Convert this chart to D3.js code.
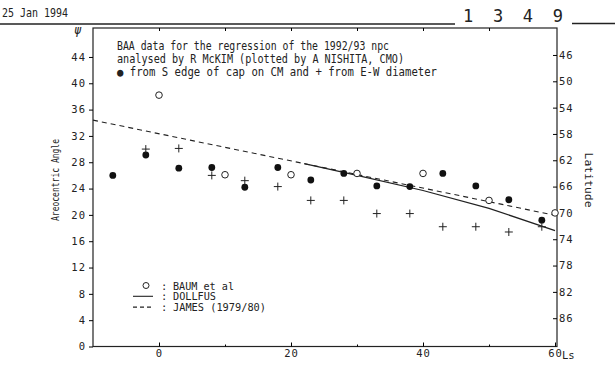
<!DOCTYPE html>
<html>
<head>
<meta charset="utf-8">
<script src="https://cdn.jsdelivr.net/npm/d3@7"></script>
<style>
  body { margin: 0; background: #fff; }
  svg { display: block; }
  text { font-family: "DejaVu Sans Mono", "Liberation Mono", monospace; fill: #222; }
</style>
</head>
<body>
<div id="vis"></div>
<script>
// filled dots: from S edge of cap on CM
const lsEdge = [-7, -2, 3, 8, 13, 18, 23, 28, 33, 38, 43, 48, 53, 58];
const psiEdge = [26.0, 29.1, 27.1, 27.2, 24.2, 27.2, 25.3, 26.3, 24.4, 24.3, 26.3, 24.4, 22.3, 19.2];
// plus signs: from E-W diameter
const lsDiam = [-2, 3, 8, 13, 18, 23, 28, 33, 38, 43, 48, 53, 58];
const psiDiam = [30.0, 30.1, 26.0, 25.2, 24.3, 22.2, 22.2, 20.2, 20.2, 18.2, 18.2, 17.4, 18.2];
// open circles: BAUM et al
const lsBaum = [0, 10, 20, 30, 40, 50, 60];
const psiBaum = [38.2, 26.1, 26.1, 26.3, 26.3, 22.2, 20.3];
// curves
const lsDollfus = [22, 30, 40, 50, 60];
const psiDollfus = [27.8, 26.0, 23.7, 21.0, 17.6];
const lsJames = [-10, 59.7];
const psiJames = [34.4, 20.0];

const psiTicks = [0, 4, 8, 12, 16, 20, 24, 28, 32, 36, 40, 44];
const latTicks = [46, 50, 54, 58, 62, 66, 70, 74, 78, 82, 86];
const lsTicks = [0, 20, 40, 60];
const lsMinor = [10, 30, 50];
const latOffset = 90.3; // latitude = latOffset - psi

const notes = [
  "BAA data for the regression of the 1992/93 npc",
  "analysed by R McKIM (plotted by A NISHITA, CMO)",
  "\u25CF from S edge of cap on CM and + from E-W diameter"
];
const noteWidths = [272, 287, 320];
const legendItems = [
  {label: "BAUM et al", type: "circle", w: 61},
  {label: "DOLLFUS", type: "solid", w: 43},
  {label: "JAMES (1979/80)", type: "dash", w: 93}
];

const width = 615, height = 368;
const margin = {top: 28, right: 58, bottom: 22, left: 93};

const svg = d3.select("#vis").append("svg")
    .attr("width", width)
    .attr("height", height);

svg.append("rect").attr("width", width).attr("height", height).attr("fill", "#fff");

// header
svg.append("text").attr("x", 2).attr("y", 17)
    .attr("font-size", 13).attr("textLength", 66).attr("lengthAdjust", "spacingAndGlyphs")
    .text("25 Jan 1994");
svg.append("line").attr("x1", 0).attr("x2", 455).attr("y1", 24).attr("y2", 24)
    .attr("stroke", "#222").attr("stroke-width", 1.4);
svg.append("text").attr("x", 463).attr("y", 22)
    .attr("font-family", "Liberation Mono").attr("font-size", 17)
    .attr("textLength", 100).attr("lengthAdjust", "spacing")
    .text("1 3 4 9");
svg.append("line").attr("x1", 572).attr("x2", 615).attr("y1", 23.5).attr("y2", 23.5)
    .attr("stroke", "#222").attr("stroke-width", 1.4);

const x = d3.scaleLinear().domain([-10, 60.3]).range([margin.left, width - margin.right]);
const y = d3.scaleLinear().domain([0, 48.4]).range([height - margin.bottom + 0.5, margin.top]);
const yLat = d3.scaleLinear().domain(y.domain().map(v => latOffset - v)).range(y.range());

// frame
svg.append("rect")
    .attr("x", x.range()[0]).attr("y", margin.top)
    .attr("width", x.range()[1] - x.range()[0])
    .attr("height", y.range()[0] - margin.top)
    .attr("fill", "none").attr("stroke", "#222").attr("stroke-width", 1.2);

const tickFont = g => g.selectAll("text").attr("font-size", 10.5).attr("letter-spacing", 1);

// left axis
svg.append("g").attr("transform", `translate(${x.range()[0]},0)`)
    .call(d3.axisLeft(y).tickValues(psiTicks).tickSize(4).tickPadding(3).tickSizeOuter(0))
    .call(g => g.select(".domain").remove())
    .call(tickFont);

// right axis (latitude)
svg.append("g").attr("transform", `translate(${x.range()[1]},0)`)
    .call(d3.axisRight(yLat).tickValues(latTicks).tickSize(-4).tickPadding(2).tickSizeOuter(0))
    .call(g => g.select(".domain").remove())
    .call(tickFont);

// bottom axis
svg.append("g").attr("transform", `translate(0,${y.range()[0]})`)
    .call(d3.axisBottom(x).tickValues(lsTicks).tickSize(-4).tickPadding(3).tickSizeOuter(0))
    .call(g => g.select(".domain").remove())
    .call(tickFont);
svg.append("g").attr("transform", `translate(0,${y.range()[0]})`)
    .call(d3.axisBottom(x).tickValues(lsMinor).tickSize(-2).tickFormat("").tickSizeOuter(0))
    .call(g => g.select(".domain").remove());

// top minor ticks
svg.append("g").attr("transform", `translate(0,${margin.top})`)
    .call(d3.axisTop(x).tickValues([0, 10, 20, 30, 40, 50]).tickSize(-3).tickFormat("").tickSizeOuter(0))
    .call(g => g.select(".domain").remove());

svg.append("text").attr("x", x(60) + 7).attr("y", y(0) + 12)
    .attr("font-size", 10.5).text("Ls");

// axis titles
svg.append("text").attr("x", 74).attr("y", 34)
    .attr("font-family", "DejaVu Serif").attr("font-style", "italic").attr("font-size", 12)
    .text("\u03C8");
svg.append("text")
    .attr("transform", "translate(59,180) rotate(-90)")
    .attr("text-anchor", "middle").attr("font-size", 10)
    .attr("textLength", 82).attr("lengthAdjust", "spacingAndGlyphs")
    .text("Areocentric Angle");
svg.append("text")
    .attr("transform", "translate(585,180) rotate(90)")
    .attr("text-anchor", "middle").attr("font-size", 11)
    .attr("textLength", 55).attr("lengthAdjust", "spacingAndGlyphs")
    .text("Latitude");

// notes
svg.selectAll(".note").data(notes).enter().append("text")
    .attr("class", "note")
    .attr("x", 117).attr("y", (d, i) => 50 + i * 13)
    .attr("font-size", 11.5)
    .attr("textLength", (d, i) => noteWidths[i]).attr("lengthAdjust", "spacingAndGlyphs")
    .text(d => d);

// lines
const line = d3.line().x(d => x(d[0])).y(d => y(d[1]));
svg.append("path").datum(d3.zip(lsJames, psiJames))
    .attr("d", line).attr("fill", "none").attr("stroke", "#222")
    .attr("stroke-width", 1.1).attr("stroke-dasharray", "5,4");
svg.append("path").datum(d3.zip(lsDollfus, psiDollfus))
    .attr("d", line).attr("fill", "none").attr("stroke", "#222").attr("stroke-width", 1.2);

// points
svg.selectAll(".edge").data(d3.zip(lsEdge, psiEdge)).enter().append("circle")
    .attr("class", "edge")
    .attr("cx", d => x(d[0])).attr("cy", d => y(d[1])).attr("r", 3.4)
    .attr("fill", "#111");

svg.selectAll(".diam").data(d3.zip(lsDiam, psiDiam)).enter().append("path")
    .attr("class", "diam")
    .attr("d", d => `M${x(d[0]) - 4},${y(d[1])}H${x(d[0]) + 4}M${x(d[0])},${y(d[1]) - 4}V${y(d[1]) + 4}`)
    .attr("stroke", "#222").attr("stroke-width", 1);

svg.selectAll(".baum").data(d3.zip(lsBaum, psiBaum)).enter().append("circle")
    .attr("class", "baum")
    .attr("cx", d => x(d[0])).attr("cy", d => y(d[1])).attr("r", 3.3)
    .attr("fill", "#fff").attr("stroke", "#222").attr("stroke-width", 1);

// legend
const lg = svg.append("g");
legendItems.forEach((item, i) => {
  const cy = 285.5 + i * 10.8;
  if (item.type === "circle") {
    lg.append("circle").attr("cx", 146).attr("cy", cy).attr("r", 3)
      .attr("fill", "none").attr("stroke", "#222");
  } else {
    lg.append("line").attr("x1", 133).attr("x2", 153).attr("y1", cy).attr("y2", cy)
      .attr("stroke", "#222").attr("stroke-width", 1.1)
      .attr("stroke-dasharray", item.type === "dash" ? "4,3" : null);
  }
  lg.append("text").attr("x", 161).attr("y", cy + 4).attr("font-size", 10.5).text(":");
  lg.append("text").attr("x", 173).attr("y", cy + 4).attr("font-size", 10.5)
    .attr("textLength", item.w).attr("lengthAdjust", "spacingAndGlyphs")
    .text(item.label);
});
</script>
</body>
</html>
